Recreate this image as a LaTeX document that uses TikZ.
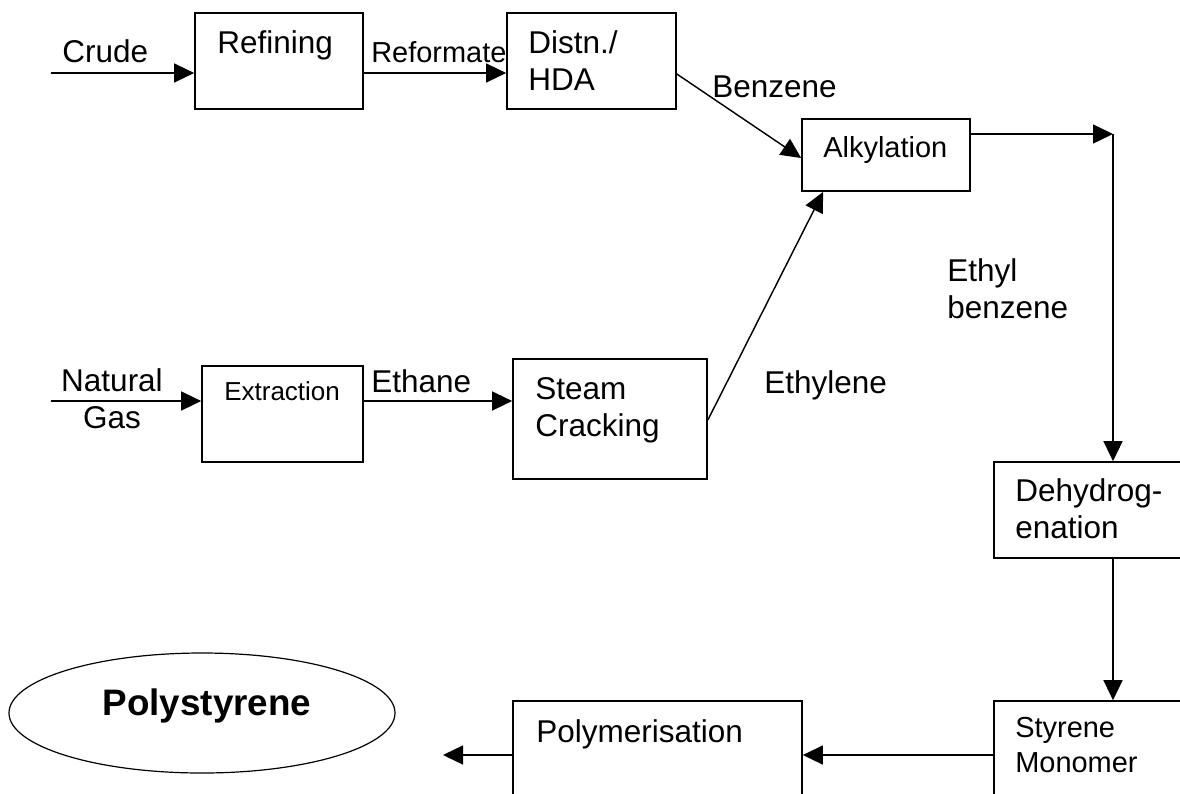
\documentclass[tikz,border=0pt]{standalone}
\usepackage{fontspec}
\setmainfont{Liberation Sans}
\usetikzlibrary{arrows.meta,calc,shapes.geometric}

\begin{document}
\begin{tikzpicture}[x=0.25mm,y=-0.25mm,
    unit/.style={draw,line width=0.42mm,inner sep=0pt},
    flow/.style={line width=0.36mm,-{Triangle[length=5mm,width=4.75mm]}},
    txt/.style={inner sep=0pt,anchor=base west,align=left,font=\fontsize{22.4}{26}\selectfont},
    small/.style={font=\fontsize{20.6}{24.2}\selectfont}]
    \clip (0,0) rectangle (1180,793);
    \node[unit,minimum width=42mm,minimum height=24mm] (refine) at (279,61) {};
    \node[unit,minimum width=42.25mm,minimum height=24mm] (distn) at (591.5,61) {};
    \node[unit,minimum width=42mm,minimum height=18mm] (alky) at (886,155) {};
    \node[unit,minimum width=40.25mm,minimum height=24mm] (extract) at (282.5,414) {};
    \node[unit,minimum width=48.5mm,minimum height=30mm] (steam) at (610,419) {};
    \node[unit,minimum width=47mm,minimum height=24mm] (dehyd) at (1088,510) {};
    \node[unit,minimum width=47mm,minimum height=30mm] (styrene) at (1088,761) {};
    \node[unit,minimum width=72.25mm,minimum height=30mm] (polymer) at (657.5,761) {};
    \node[draw,ellipse,line width=0.3mm,inner sep=0pt,minimum width=96.5mm,minimum height=30mm] (ps) at (202,713) {};

    \node[txt] (t-refine) at (217,53) {Refining};
    \node[txt] (t-distn) at (528,90) {Distn./\\HDA};
    \node[txt,small] (t-alky) at (823,157) {Alkylation};
    \node[txt,font=\fontsize{18.5}{22}\selectfont] (t-extract) at (224,400) {Extraction};
    \node[txt] (t-steam) at (535,436) {Steam\\Cracking};
    \node[txt] (t-dehyd) at (1015,538) {Dehydrog-\\enation};
    \node[txt,small] (t-styrene) at (1015,772) {Styrene\\Monomer};
    \node[txt] (t-polymer) at (536,742) {Polymerisation};
    \node[txt,anchor=base,font=\fontsize{26.2}{30}\selectfont\bfseries] (t-ps) at (207,715) {Polystyrene};

    \foreach \nm/\x/\y/\lab in {crude/62/62/{Crude},benz/712/97/{Benzene},ethane/371/392/{Ethane},ethyl/764/393/{Ethylene},eb/947/318/{Ethyl\\benzene}}{
      \node[txt] (l-\nm) at (\x,\y) {\lab};
    }
    \node[txt,small] (l-reform) at (371,62) {Reformate};
    \node[txt,align=center,anchor=base] (l-gas) at (112,428) {Natural\\Gas};

    \coordinate (crudein) at (51,73);
    \coordinate (gasin) at (51,401);
    \coordinate (ebturn) at (1113,134);
    \coordinate (psout) at (443,755);
    \draw[flow] (crudein) -- (crudein -| refine.west);
    \draw[flow] (crudein -| refine.east) -- (crudein -| distn.west);
    \draw[flow] ($(distn.east)+(0,13)$) -- ($(alky.west)+(0,3)$);
    \draw[flow] (gasin) -- (gasin -| extract.west);
    \draw[flow] (gasin -| extract.east) -- (gasin -| steam.west);
    \draw[flow] ($(steam.east)+(0,1)$) -- ($(alky.south west)+(22,0)$);
    \draw[flow] (ebturn -| alky.east) -- (ebturn);
    \draw[flow] (ebturn) -- (ebturn |- dehyd.north);
    \draw[flow] (dehyd.south -| ebturn) -- (styrene.north -| ebturn);
    \draw[flow] (psout -| styrene.west) -- (psout -| polymer.east);
    \draw[flow] (psout -| polymer.west) -- (psout);
  \end{tikzpicture}
\end{document}
